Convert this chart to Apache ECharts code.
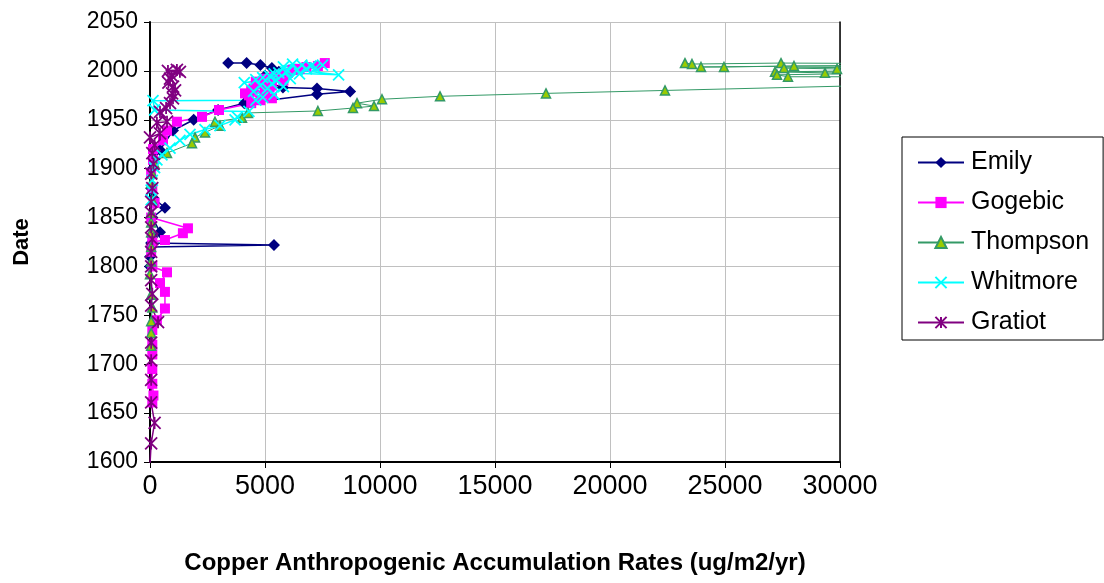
<!DOCTYPE html>
<html>
<head>
<meta charset="utf-8">
<script src="https://cdn.jsdelivr.net/npm/echarts@6/dist/echarts.min.js"></script>
<style>
html,body{margin:0;padding:0;background:#fff;}
#chart{width:1104px;height:583px;}
</style>
</head>
<body>
<div id="chart"></div>
<script>
// [rate (ug/m2/yr), date]
const emily = [
  [3400,2008],[4200,2008],[4800,2006],[5300,2003],[5600,1999],[5000,1995],[4900,1990],
  [5780,1983],[7260,1982],[8700,1979],[7260,1976],[4100,1967],[2960,1960],[1900,1950],
  [1000,1939],[435,1919],[200,1910],[100,1900],[50,1880],[150,1870],[650,1860],[100,1850],
  [435,1835],[100,1830],[50,1824],[5390,1822],[50,1820],[0,1810],[0,1800]
];
const gogebic = [
  [7600,2008],[7300,2005],[6800,2004],[6500,2002],[6200,2001],[6000,1998],[5700,1996],
  [5400,1994],[5000,1992],[5800,1990],[4600,1989],[4900,1987],[5300,1985],[5200,1983],
  [4500,1982],[4400,1980],[5000,1978],[4130,1977],[4300,1975],[5300,1972],[4800,1970],
  [4400,1967],[3000,1960],[2260,1953],
  [1170,1948],[740,1939],[565,1929],[130,1920],[130,1909],[50,1895],[100,1880],[200,1865],
  [50,1850],[1650,1839],[1430,1834],[650,1827],[100,1825],[50,1815],[100,1800],[740,1794],
  [435,1783],[650,1774],[650,1757],[300,1745],[100,1735],[100,1720],[100,1710],[100,1695],
  [100,1680],[150,1668],[100,1661]
];
const thompson = [
  [23260,2008],[23565,2007],[27435,2008],[38000,2007],[23957,2004],[24957,2004],[28000,2005],
  [36000,2005],[27565,2003],[29870,2002],[34000,2001],[27174,1999],[29348,1998],[33000,1998],
  [27261,1996],[27739,1994],[36000,1994],[40000,1990],[22391,1980],[17217,1977],[12609,1974],
  [10087,1971],[9000,1967],[9740,1964],[8826,1962],[7300,1959],[4261,1957],[4000,1952],
  [2826,1948],[3043,1944],[2391,1937],[1957,1932],[1826,1926],[740,1916],[200,1905],
  [100,1895],[50,1885],[100,1868],[50,1855],[50,1845],[50,1835],[50,1820],[50,1805],
  [0,1792],[50,1771],[100,1758],[50,1744],[50,1732],[50,1719]
];
const whitmore = [
  [7500,2006],[7000,2005],[6200,2007],[5800,2004],[6600,2006],[6800,2002],[6000,2000],
  [7200,2003],[6400,2001],[8200,1996],[5600,1998],[5900,1999],[5200,1995],[5400,1997],
  [4900,1993],[5500,1990],[6100,1992],[4100,1988],[6500,1997],[4600,1991],[4800,1985],
  [5300,1987],[5100,1982],[4500,1979],[5800,1984],[5400,1976],[4900,1973],[4600,1970],
  [130,1969.5],[200,1960],
  [4300,1958.5],[3800,1953],[3700,1950],[3043,1944],[2391,1940],[1740,1935],[1300,1929],
  [870,1921],[520,1914],[300,1909],[200,1901],[100,1888],[50,1878],[50,1868]
];
const gratiot = [
  [1170,2001],[780,2000],[1300,1999],[950,1995],[870,1992],[800,1988],[1000,1984],
  [1090,1980],[960,1977],[1000,1972],[870,1967],[700,1962],[435,1958],[740,1948],
  [300,1947],[435,1936],[0,1932],[200,1924],[100,1916],[150,1905],[50,1895],[100,1880],
  [50,1866],[50,1855],[50,1840],[100,1828],[50,1815],[50,1800],[50,1786],[100,1772],
  [50,1760],[350,1743],[50,1722],[50,1704],[50,1684],[50,1661],[200,1640],[50,1619],[0,1598]
];
const seriesNames = ['Emily','Gogebic','Thompson','Whitmore','Gratiot'];
const xTitle = 'Copper Anthropogenic Accumulation Rates (ug/m2/yr)';
const yTitle = 'Date';

const FONT = '"Liberation Sans", Arial, sans-serif';
const X_PATH = 'path://M0,0L10,10M10,0L0,10';
const AST_PATH = 'path://M0,0L10,10M10,0L0,10M5,0L5,10';

const chart = echarts.init(document.getElementById('chart'), null, {renderer:'canvas'});
function lineSeries(name, data, opts) {
  return Object.assign({
    name: name, type: 'line', data: data, clip: true,
    xAxisIndex: 0, yAxisIndex: 0, emphasis: {disabled: true}
  }, opts);
}
const plain = v => String(v);
chart.setOption({
  animation: false,
  backgroundColor: '#fff',
  grid: {left: 150, top: 22, width: 690, height: 440, containLabel: false},
  legend: {
    orient: 'vertical', left: 902, top: 137,
    padding: [13, 14, 5, 15],
    borderColor: '#000', borderWidth: 1,
    itemWidth: 46, itemHeight: 14, itemGap: 15,
    textStyle: {fontFamily: FONT, fontSize: 25, color: '#000', padding: [0,0,0,2]},
    data: seriesNames
  },
  xAxis: {
    type: 'value', min: 0, max: 30000, interval: 5000,
    name: xTitle, nameLocation: 'middle', nameGap: 89,
    nameTextStyle: {fontFamily: FONT, fontSize: 24, fontWeight: 'bold', color: '#000'},
    axisLine: {show: true, onZero: false, lineStyle: {color: '#000', width: 2}},
    axisTick: {show: true, length: 6, lineStyle: {color: '#000'}},
    axisLabel: {fontFamily: FONT, fontSize: 27, color: '#000', margin: 11, formatter: plain},
    splitLine: {show: true, lineStyle: {color: '#c0c0c0', width: 1}}
  },
  yAxis: [{
    type: 'value', min: 1600, max: 2050, interval: 50,
    name: yTitle, nameLocation: 'middle', nameGap: 117, nameRotate: 90,
    nameTextStyle: {fontFamily: FONT, fontSize: 22, fontWeight: 'bold', color: '#000'},
    axisLine: {show: true, onZero: false, lineStyle: {color: '#000', width: 2}},
    axisTick: {show: true, length: 6, lineStyle: {color: '#000'}},
    axisLabel: {fontFamily: FONT, fontSize: 23, color: '#000', margin: 12, formatter: plain},
    splitLine: {show: true, lineStyle: {color: '#c0c0c0', width: 1}}
  }, {
    type: 'value', min: 1600, max: 2050, interval: 50, position: 'right',
    axisLine: {show: true, onZero: false, lineStyle: {color: '#000', width: 1.5}},
    axisTick: {show: false}, axisLabel: {show: false}, splitLine: {show: false}
  }],
  series: [
    lineSeries('Emily', emily, {
      symbol: 'diamond', symbolSize: 12,
      itemStyle: {color: '#000080'},
      lineStyle: {color: '#000080', width: 1.5}
    }),
    lineSeries('Gogebic', gogebic, {
      symbol: 'rect', symbolSize: 10,
      itemStyle: {color: '#ff00ff'},
      lineStyle: {color: '#ff00ff', width: 1.5}
    }),
    lineSeries('Thompson', thompson, {
      symbol: 'triangle', symbolSize: 9,
      itemStyle: {color: '#99cc00', borderColor: '#339966', borderWidth: 1.5},
      lineStyle: {color: '#339966', width: 1}
    }),
    lineSeries('Whitmore', whitmore, {
      symbol: X_PATH, symbolSize: 11,
      itemStyle: {color: '#00ffff', borderColor: '#00ffff', borderWidth: 1.8},
      lineStyle: {color: '#00ffff', width: 1.5}
    }),
    lineSeries('Gratiot', gratiot, {
      symbol: AST_PATH, symbolSize: 12,
      itemStyle: {color: '#800080', borderColor: '#800080', borderWidth: 1.8},
      lineStyle: {color: '#800080', width: 1.5}
    })
  ]
});
</script>
</body>
</html>
